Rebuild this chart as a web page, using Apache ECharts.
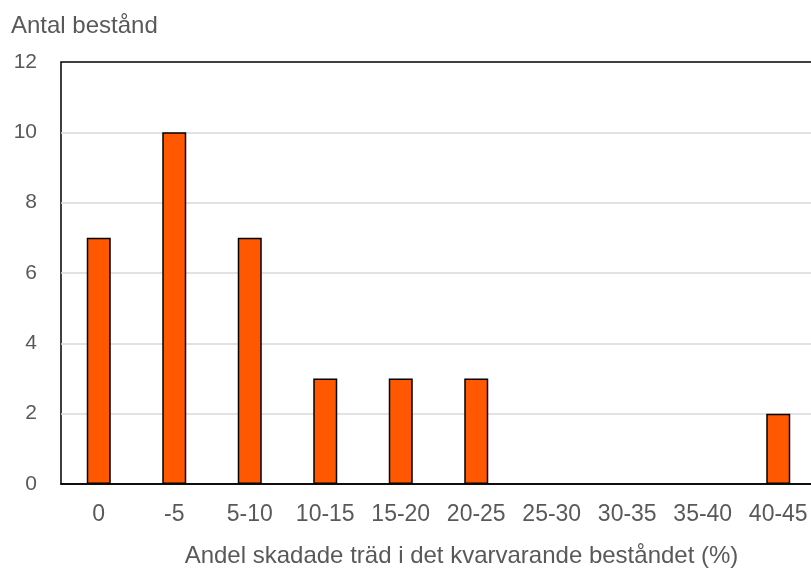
<!DOCTYPE html>
<html>
<head>
<meta charset="utf-8">
<script src="https://cdn.jsdelivr.net/npm/echarts@6/dist/echarts.min.js"></script>
<style>
  html, body { margin: 0; padding: 0; background: #fff; }
  #chart { width: 811px; height: 568px; }
</style>
</head>
<body>
<div id="chart"></div>
<script>
// Damage classes (share of damaged trees, %) and number of stands per class
const categories = ['0', '-5', '5-10', '10-15', '15-20', '20-25', '25-30', '30-35', '35-40', '40-45'];
const standCounts = [7, 10, 7, 3, 3, 3, 0, 0, 0, 2];
const yTicks = { min: 0, max: 12, interval: 2 };

const yTitle = 'Antal bestånd';
const xTitle = 'Andel skadade träd i det kvarvarande beståndet (%)';

const FONT = '"Liberation Sans", Arial, sans-serif';
const TEXT = '#595959';

const chart = echarts.init(document.getElementById('chart'), null, { renderer: 'canvas' });

// Empty classes get no outline so nothing is stroked along the baseline
const barData = standCounts.map(v => ({
  value: v,
  itemStyle: v === 0 ? { borderWidth: 0 } : undefined
}));

chart.setOption({
  animation: false,
  backgroundColor: '#fff',
  title: {
    text: yTitle,
    left: 6,
    top: 9,
    textStyle: { fontFamily: FONT, fontSize: 24, fontWeight: 'normal', color: TEXT }
  },
  grid: {
    left: 61,
    right: -5,
    top: 62,
    bottom: 84,
    outerBoundsMode: 'none',
    containLabel: false,
    show: true,
    borderColor: '#000',
    borderWidth: 1.5,
    backgroundColor: 'transparent'
  },
  xAxis: {
    type: 'category',
    data: categories,
    name: xTitle,
    nameLocation: 'middle',
    nameGap: 60,
    nameTextStyle: { fontFamily: FONT, fontSize: 24, color: TEXT, padding: [0, 0, 0, 46] },
    axisLine: { lineStyle: { color: '#000', width: 1.5 } },
    axisTick: { show: false },
    axisLabel: { interval: 0, hideOverlap: false, fontFamily: FONT, fontSize: 23, color: TEXT, margin: 19 }
  },
  yAxis: {
    type: 'value',
    min: yTicks.min,
    max: yTicks.max,
    interval: yTicks.interval,
    axisLine: { show: false },
    axisTick: { show: false },
    axisLabel: { fontFamily: FONT, fontSize: 21, color: TEXT, margin: 24 },
    splitLine: { showMinLine: false, showMaxLine: false, lineStyle: { color: '#d9d9d9', width: 1.5 } }
  },
  series: [{
    type: 'bar',
    data: barData,
    barWidth: 24,
    itemStyle: { color: '#ff5800', borderColor: '#000', borderWidth: 1.5 }
  }]
});
</script>
</body>
</html>
